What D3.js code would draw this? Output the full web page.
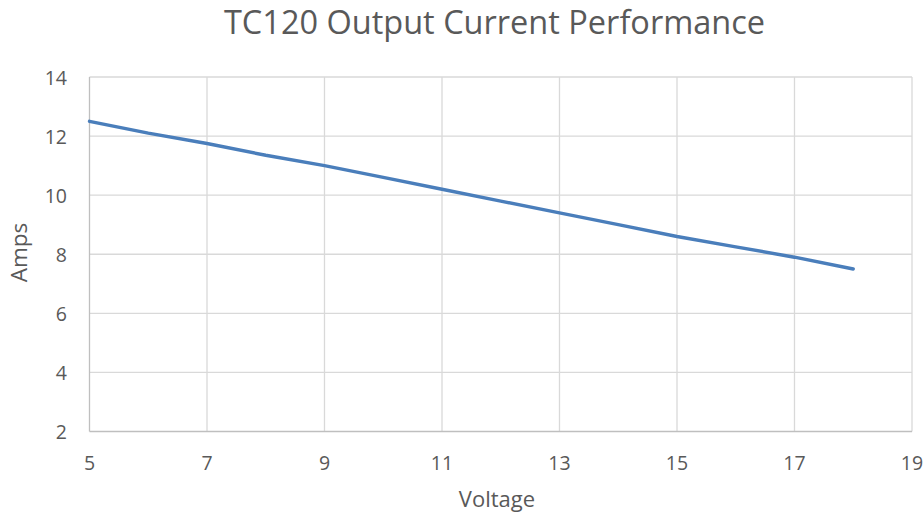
<!DOCTYPE html>
<html><head><meta charset="utf-8">
<script src="https://cdn.jsdelivr.net/npm/d3@7"></script>
<style>body{margin:0;background:#fff;overflow:hidden;} text{font-family:"Open Sans",sans-serif;fill:#595959;}</style>
</head><body><svg id="c" width="924" height="514"></svg>
<script>
const voltage = [5,6,7,8,9,10,11,12,13,14,15,16,17,18];
const amps = [12.5,12.1,11.75,11.35,11.0,10.6,10.2,9.8,9.4,9.0,8.6,8.25,7.9,7.5];
const xTicks = [5,7,9,11,13,15,17,19];
const yTicks = [2,4,6,8,10,12,14];
const title = "TC120 Output Current Performance";
const xLabel = "Voltage", yLabel = "Amps";

const svg = d3.select("#c");
const L=89.5, R=912, T=77, B=431.5;
const x = d3.scaleLinear().domain([5,19]).range([L,R]);
const y = d3.scaleLinear().domain([2,14]).range([B,T]);

const g = svg.append("g");
g.selectAll(".vg").data(xTicks.slice(1)).join("line")
  .attr("x1",d=>x(d)).attr("x2",d=>x(d)).attr("y1",T).attr("y2",B)
  .attr("stroke","#d9d9d9").attr("stroke-width",1.3);
g.selectAll(".hg").data(yTicks.slice(1)).join("line")
  .attr("x1",L).attr("x2",R).attr("y1",d=>y(d)).attr("y2",d=>y(d))
  .attr("stroke","#d9d9d9").attr("stroke-width",1.3);
g.append("line").attr("x1",L).attr("x2",R).attr("y1",B).attr("y2",B).attr("stroke","#bfbfbf").attr("stroke-width",1.3);
g.append("line").attr("x1",L).attr("x2",L).attr("y1",T).attr("y2",B).attr("stroke","#bfbfbf").attr("stroke-width",1.3);

g.selectAll(".xt").data(xTicks).join("text")
  .attr("x",d=>x(d)).attr("y",470).attr("text-anchor","middle")
  .attr("font-size",19.5).text(d=>d);
g.selectAll(".yt").data(yTicks).join("text")
  .attr("x",67).attr("y",d=>y(d)+7.5).attr("text-anchor","end")
  .attr("font-size",19.5).text(d=>d);

const line = d3.line().x((d,i)=>x(voltage[i])).y(d=>y(d));
g.append("path").datum(amps).attr("d",line).attr("fill","none")
  .attr("stroke","#4a7ebb").attr("stroke-width",3.4).attr("stroke-linecap","round");

svg.append("text").attr("x",494.5).attr("y",34).attr("text-anchor","middle")
  .attr("font-size",32.5).text(title);
svg.append("text").attr("x",497).attr("y",506.5).attr("text-anchor","middle")
  .attr("font-size",22).text(xLabel);
svg.append("text").attr("transform","translate(26.5,252.5) rotate(-90)").attr("text-anchor","middle")
  .attr("font-size",22.5).text(yLabel);
</script></body></html>
